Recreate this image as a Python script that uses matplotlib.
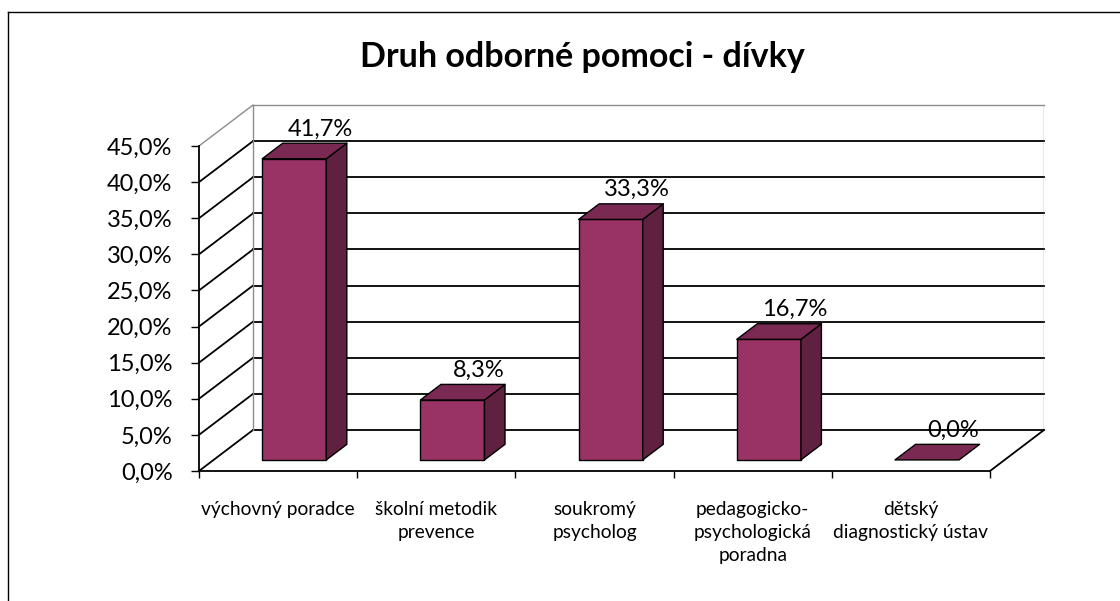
import matplotlib
matplotlib.use("Agg")
import matplotlib.pyplot as plt
from matplotlib.patches import Polygon
from matplotlib.lines import Line2D

# ---------------- data ----------------
title = "Druh odborné pomoci - dívky"
categories = [
    "výchovný poradce",
    "školní metodik\nprevence",
    "soukromý\npsycholog",
    "pedagogicko-\npsychologická\nporadna",
    "dětský\ndiagnostický ústav",
]
values = [41.7, 8.3, 33.3, 16.7, 0.0]
value_labels = ["41,7%", "8,3%", "33,3%", "16,7%", "0,0%"]
y_ticks = [0, 5, 10, 15, 20, 25, 30, 35, 40, 45]
y_tick_labels = ["0,0%", "5,0%", "10,0%", "15,0%", "20,0%", "25,0%",
                 "30,0%", "35,0%", "40,0%", "45,0%"]

# ---------------- style ----------------
plt.rcParams["font.family"] = ["Lato", "DejaVu Sans"]
C_FRONT = "#993366"
C_TOP = "#7a2a52"
C_SIDE = "#602040"
C_GRID = "#000000"
C_WALL = "#8c8c8c"

W, H = 1120, 601
fig = plt.figure(figsize=(W / 100, H / 100), dpi=100)

# front plane in pixels, depth vector in pixels
x0_px, x5_px = 199, 990
y0_px, y45_px = 471, 146
DX_px, DY_px = 54, 41
n = len(categories)
ymax = y_ticks[-1]
cat_px = (x5_px - x0_px) / n
pct_px = (y0_px - y45_px) / ymax
DX = DX_px / cat_px
DY = DY_px / pct_px

ax = fig.add_axes([x0_px / W, 1 - y0_px / H,
                   (x5_px + DX_px - x0_px) / W,
                   (y0_px - (y45_px - DY_px)) / H])
ax.set_xlim(0, n + DX)
ax.set_ylim(0, ymax + DY)
for s in ax.spines.values():
    s.set_visible(False)
ax.patch.set_visible(False)

lw_grid = 1.3
# left side wall diagonals and back wall gridlines
for v in y_ticks:
    col = C_WALL if v == ymax else C_GRID
    lw = 1.0 if v == ymax else lw_grid
    ax.add_line(Line2D([0, DX], [v, v + DY], color=col, lw=lw, zorder=1, clip_on=False))
    ax.add_line(Line2D([DX, n + DX], [v + DY, v + DY], color=col, lw=lw, zorder=1, clip_on=False))
# wall edges
ax.add_line(Line2D([DX, DX], [DY, ymax + DY], color=C_WALL, lw=1.0, zorder=1))
ax.add_line(Line2D([n + DX, n + DX], [DY, ymax + DY], color=C_WALL, lw=1.0, zorder=1))
# floor front edge & right diagonal, vertical axis line
ax.add_line(Line2D([0, n], [0, 0], color=C_GRID, lw=lw_grid, zorder=2, clip_on=False))
ax.add_line(Line2D([n, n + DX], [0, DY], color=C_GRID, lw=lw_grid, zorder=2, clip_on=False))
ax.add_line(Line2D([0, 0], [0, ymax], color=C_GRID, lw=lw_grid, zorder=2, clip_on=False))

# bars
half_w = 0.2025
c_off = 0.51
f0, f1 = 0.27, 0.65
for i, v in enumerate(values):
    c = i + c_off
    xl0, xr0 = c - half_w + f0 * DX, c + half_w + f0 * DX
    xl1, xr1 = c - half_w + f1 * DX, c + half_w + f1 * DX
    yb0, yb1 = f0 * DY, f1 * DY
    kw = dict(ec="black", lw=1.0, zorder=5, joinstyle="round")
    if v > 0:
        ax.add_patch(Polygon([(xl0, yb0), (xr0, yb0), (xr0, v + yb0), (xl0, v + yb0)],
                             fc=C_FRONT, **kw))
        ax.add_patch(Polygon([(xr0, yb0), (xr1, yb1), (xr1, v + yb1), (xr0, v + yb0)],
                             fc=C_SIDE, **kw))
    ax.add_patch(Polygon([(xl0, v + yb0), (xr0, v + yb0), (xr1, v + yb1), (xl1, v + yb1)],
                         fc=C_TOP, **kw))
    ax.annotate(value_labels[i], xy=(c + 0.75 * DX, v + 0.75 * DY),
                xytext=(0, 2.5), textcoords="offset points",
                ha="center", va="baseline", fontsize=17, zorder=6)

# ticks
ax.set_yticks(y_ticks)
ax.set_yticklabels(y_tick_labels)
ax.tick_params(axis="y", direction="out", length=6, width=1, pad=13, labelsize=17)
ax.set_xticks(list(range(n + 1)))
ax.set_xticklabels([""] * (n + 1))
ax.tick_params(axis="x", which="major", direction="out", length=5, width=1)
ax.set_xticks([i + 0.5 for i in range(n)], minor=True)
ax.set_xticklabels(categories, minor=True, fontsize=13.8, linespacing=1.45)
ax.tick_params(axis="x", which="minor", length=0, pad=21.5)

# title
fig.text(582 / W, 1 - 57 / H, title, ha="center", va="center",
         fontsize=24.5, fontweight="bold")

# outer chart border (only left and top edges fall inside the picture)
fig.add_artist(Line2D([8 / W, 8 / W], [0, 1 - 12 / H], transform=fig.transFigure,
                      color="black", lw=1.0))
fig.add_artist(Line2D([8 / W, 1], [1 - 12 / H, 1 - 12 / H], transform=fig.transFigure,
                      color="black", lw=1.0))

fig.savefig("out.png", dpi=100)
